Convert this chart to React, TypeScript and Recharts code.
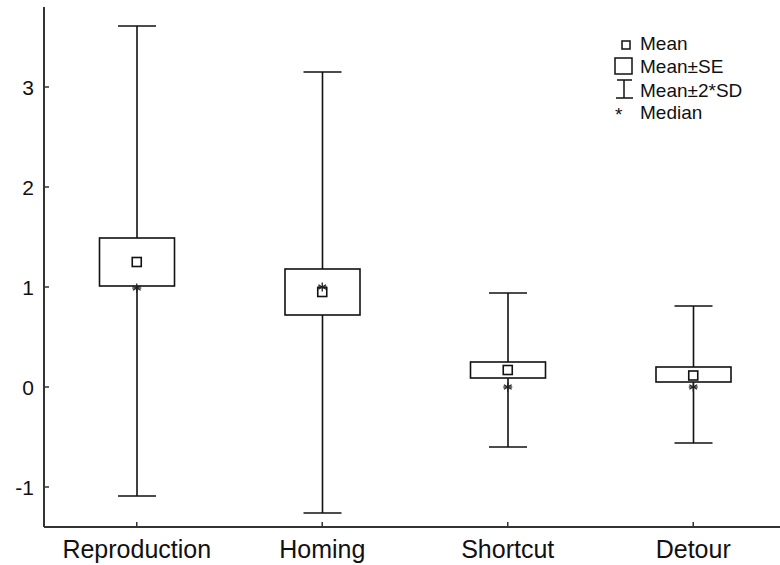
import React from 'react';
import { ComposedChart, Bar, Scatter, XAxis, YAxis } from 'recharts';

const categories = ['Reproduction', 'Homing', 'Shortcut', 'Detour'];
const means = [1.25, 0.95, 0.17, 0.115];
const seLow = [1.01, 0.72, 0.09, 0.05];
const seHigh = [1.49, 1.18, 0.25, 0.2];
const sdLow = [-1.09, -1.26, -0.6, -0.56];
const sdHigh = [3.61, 3.15, 0.94, 0.81];
const medians = [0.99, 1.0, 0.0, 0.0];
const yTicks = [-1, 0, 1, 2, 3];

const data = categories.map((name, i) => ({
  name,
  mean: means[i],
  median: medians[i],
  se: [seLow[i], seHigh[i]],
  sd: [sdLow[i], sdHigh[i]],
}));

const FONT = '"Liberation Sans", Arial, sans-serif';

const WhiskerShape = (props: any) => {
  const { x, y, width, height } = props;
  const cx = x + width / 2;
  const top = Math.min(y, y + height);
  const bot = Math.max(y, y + height);
  const cap = 19;
  return (
    <g stroke="#111" strokeWidth={1.6} fill="none">
      <line x1={cx} y1={top} x2={cx} y2={bot} />
      <line x1={cx - cap} y1={top} x2={cx + cap} y2={top} />
      <line x1={cx - cap} y1={bot} x2={cx + cap} y2={bot} />
    </g>
  );
};

const BoxShape = (props: any) => {
  const { x, y, width, height } = props;
  const cx = x + width / 2;
  const top = Math.min(y, y + height);
  const bot = Math.max(y, y + height);
  const w = 75;
  return (
    <rect x={cx - w / 2} y={top} width={w} height={bot - top} fill="#fff" stroke="#111" strokeWidth={1.6} />
  );
};

const MeanShape = (props: any) => {
  const { cx, cy } = props;
  return <rect x={cx - 4.5} y={cy - 4.5} width={9} height={9} fill="#fff" stroke="#111" strokeWidth={1.6} />;
};

const MedianShape = (props: any) => {
  const { cx, cy } = props;
  const r = 4.5;
  const lines = [0, 60, 120].map((a) => {
    const rad = (a * Math.PI) / 180;
    return (
      <line key={a} x1={cx - r * Math.sin(rad)} y1={cy - r * Math.cos(rad)} x2={cx + r * Math.sin(rad)} y2={cy + r * Math.cos(rad)} />
    );
  });
  return (
    <g stroke="#222" strokeWidth={1.3}>
      {lines}
      <line x1={cx - r} y1={cy} x2={cx + r} y2={cy} />
    </g>
  );
};

const YTick = (props: any) => {
  const { x, y, payload } = props;
  return (
    <g>
      <line x1={x} y1={y} x2={x + 5} y2={y} stroke="#333" strokeWidth={1.5} />
      <text x={x - 10} y={y} dy="0.36em" textAnchor="end" fontSize={21} fontFamily={FONT} fill="#111">
        {payload.value}
      </text>
    </g>
  );
};

const XTick = (props: any) => {
  const { x, y, payload } = props;
  return (
    <g>
      <line x1={x} y1={y} x2={x} y2={y - 5} stroke="#333" strokeWidth={1.5} />
      <text x={x} y={y + 31} textAnchor="middle" fontSize={25} fontFamily={FONT} fill="#111">
        {payload.value}
      </text>
    </g>
  );
};

export default function App() {
  return (
    <div style={{ position: 'absolute', left: 0, top: 0, width: 780, height: 565, overflow: 'hidden', background: '#fff' }}>
      <ComposedChart width={786} height={565} data={data} margin={{ top: 7, right: 0, bottom: 0, left: 0 }} barCategoryGap={0}>
        <XAxis
          xAxisId="a"
          dataKey="name"
          height={38}
          tickSize={0}
          tickMargin={0}
          tick={<XTick />}
          axisLine={{ stroke: '#333', strokeWidth: 2 }}
          interval={0}
        />
        <XAxis xAxisId="b" dataKey="name" hide />
        <YAxis
          type="number"
          domain={[-1.4, 3.8]}
          ticks={yTicks}
          width={44}
          tickSize={0}
          tickMargin={0}
          tick={<YTick />}
          axisLine={{ stroke: '#333', strokeWidth: 2 }}
          allowDataOverflow
        />
        <Bar xAxisId="a" dataKey="sd" shape={<WhiskerShape />} isAnimationActive={false} />
        <Bar xAxisId="b" dataKey="se" shape={<BoxShape />} isAnimationActive={false} />
        <Scatter xAxisId="a" dataKey="mean" shape={<MeanShape />} isAnimationActive={false} />
        <Scatter xAxisId="a" dataKey="median" shape={<MedianShape />} isAnimationActive={false} />
      </ComposedChart>
      <svg width={780} height={565} style={{ position: 'absolute', left: 0, top: 0, pointerEvents: 'none' }}>
        <g stroke="#111" strokeWidth={1.5} fill="#fff">
          <rect x={622} y={41} width={8} height={8} />
          <rect x={615} y={58} width={17} height={16} />
          <line x1={624} y1={80} x2={624} y2={98} />
          <line x1={617} y1={80} x2={632} y2={80} />
          <line x1={616} y1={98} x2={633} y2={98} />
        </g>
        <g fontSize={19} fontFamily={FONT} fill="#111">
          <text x={615} y={121}>*</text>
          <text x={640} y={50}>Mean</text>
          <text x={640} y={73}>Mean±SE</text>
          <text x={640} y={97}>Mean±2*SD</text>
          <text x={640} y={119}>Median</text>
        </g>
      </svg>
    </div>
  );
}
